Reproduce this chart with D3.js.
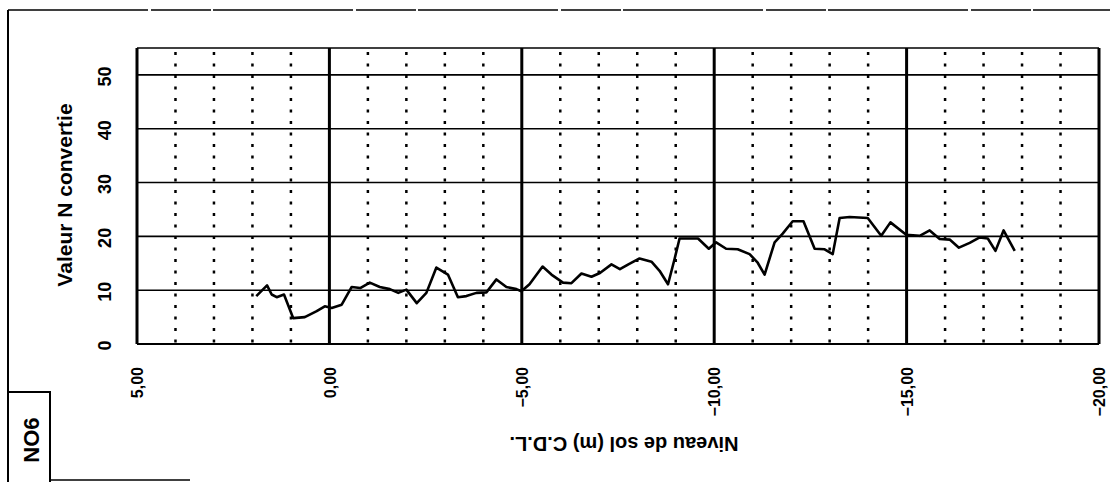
<!DOCTYPE html>
<html>
<head>
<meta charset="utf-8">
<script src="https://cdn.jsdelivr.net/npm/d3@7"></script>
<style>
  body { margin: 0; background: #fff; }
  text { font-family: "Liberation Sans", Arial, sans-serif; fill: #000; font-weight: bold; }
</style>
</head>
<body>
<div id="chart"></div>
<script>
// depth (m C.D.L.) and converted N value
var depth = [1.90, 1.62, 1.50, 1.37, 1.18, 0.94, 0.64, 0.33, 0.12, -0.06,
  -0.32, -0.58, -0.80, -1.05, -1.31, -1.57, -1.79, -2.00, -2.27, -2.52,
  -2.78, -3.08, -3.34, -3.56, -3.82, -4.08, -4.34, -4.60, -4.86, -4.99,
  -5.20, -5.54, -5.77, -6.07, -6.29, -6.55, -6.81, -7.03, -7.33, -7.55,
  -7.77, -8.06, -8.37, -8.58, -8.80, -8.97, -9.10, -9.32, -9.58, -9.86,
  -10.05, -10.31, -10.61, -10.92, -11.13, -11.31, -11.57, -11.78, -12.04, -12.32,
  -12.61, -12.87, -13.08, -13.26, -13.52, -13.99, -14.34, -14.58, -14.99, -15.34,
  -15.60, -15.86, -16.12, -16.36, -16.64, -16.90, -17.11, -17.31, -17.52, -17.81];
var nValue = [8.9, 10.9, 9.2, 8.7, 9.2, 4.8, 5.0, 6.1, 7.0, 6.7,
  7.3, 10.6, 10.4, 11.4, 10.6, 10.2, 9.5, 10.1, 7.6, 9.5,
  14.2, 12.9, 8.7, 8.9, 9.5, 9.6, 12.0, 10.6, 10.2, 9.8,
  11.1, 14.4, 12.9, 11.4, 11.3, 13.1, 12.5, 13.2, 14.8, 13.9,
  14.8, 15.9, 15.3, 13.6, 11.1, 15.8, 19.6, 19.6, 19.6, 17.7,
  18.9, 17.7, 17.6, 16.7, 15.1, 12.9, 18.9, 20.5, 22.8, 22.8,
  17.7, 17.6, 16.7, 23.4, 23.6, 23.4, 20.1, 22.6, 20.3, 20.1,
  21.1, 19.5, 19.4, 17.9, 18.8, 19.8, 19.6, 17.3, 21.1, 17.3];

var xTicks = [5, 0, -5, -10, -15, -20];
var xMinor = [4, 3, 2, 1, -1, -2, -3, -4, -6, -7, -8, -9, -11, -12, -13, -14, -16, -17, -18, -19];
var yTicks = [0, 10, 20, 30, 40, 50];

var W = 1110, H = 482;
var svg = d3.select("#chart").append("svg")
  .attr("width", W)
  .attr("height", H);

var x = d3.scaleLinear().domain([5, -20]).range([137, 1099]);
var y = d3.scaleLinear().domain([0, 55]).range([344, 48]);

// outer sheet frame
svg.append("line")
  .attr("x1", 8).attr("x2", W).attr("y1", 10).attr("y2", 10)
  .attr("stroke", "#000").attr("stroke-width", 1.3)
  .attr("stroke-dasharray", "140,3,60,2");
svg.append("line")
  .attr("x1", 8).attr("x2", 8).attr("y1", 10).attr("y2", H)
  .attr("stroke", "#000").attr("stroke-width", 2);

// NO6 box
svg.append("rect")
  .attr("x", 8).attr("y", 392).attr("width", 42).attr("height", 92)
  .attr("fill", "none").attr("stroke", "#000").attr("stroke-width", 2);
svg.append("text")
  .attr("transform", "translate(31,440) rotate(-90)")
  .attr("text-anchor", "middle")
  .attr("dy", "0.35em")
  .style("font-size", "22px")
  .text("NO6");
svg.append("line")
  .attr("x1", 50).attr("x2", 190).attr("y1", 480).attr("y2", 480)
  .attr("stroke", "#000").attr("stroke-width", 1.5);

// dotted minor verticals
svg.append("g").selectAll("line")
  .data(xMinor)
  .join("line")
  .attr("x1", d => x(d)).attr("x2", d => x(d))
  .attr("y1", y(55) + 4).attr("y2", y(0))
  .attr("stroke", "#000").attr("stroke-width", 2.5)
  .attr("stroke-dasharray", "3,8.5");

// horizontal grid
svg.append("g").selectAll("line")
  .data(yTicks.slice(1))
  .join("line")
  .attr("x1", x(5)).attr("x2", x(-20))
  .attr("y1", d => y(d)).attr("y2", d => y(d))
  .attr("stroke", "#000").attr("stroke-width", 1.6);

// major verticals
svg.append("g").selectAll("line")
  .data(xTicks)
  .join("line")
  .attr("x1", d => x(d)).attr("x2", d => x(d))
  .attr("y1", y(55)).attr("y2", y(0))
  .attr("stroke", "#000").attr("stroke-width", 3);

// plot frame
svg.append("line")
  .attr("x1", x(5)).attr("x2", x(-20)).attr("y1", y(55)).attr("y2", y(55))
  .attr("stroke", "#000").attr("stroke-width", 1.5);
svg.append("line")
  .attr("x1", x(5)).attr("x2", x(-20)).attr("y1", y(0)).attr("y2", y(0))
  .attr("stroke", "#000").attr("stroke-width", 2);

// data line
var line = d3.line()
  .x((d, i) => x(depth[i]))
  .y(d => y(d));
svg.append("path")
  .datum(nValue)
  .attr("d", line)
  .attr("fill", "none")
  .attr("stroke", "#000")
  .attr("stroke-width", 2.6)
  .attr("stroke-linejoin", "round");

// axes
var fmt = d => d3.format(".2f")(d).replace(".", ",").replace("-", "\u2212");

var yAxis = svg.append("g")
  .attr("transform", "translate(" + x(5) + ",0)")
  .call(d3.axisLeft(y).tickValues(yTicks).tickSize(0).tickFormat(d3.format("d")));
yAxis.select(".domain").remove();
yAxis.selectAll("text")
  .attr("x", 0).attr("y", 0)
  .attr("dy", "0.35em")
  .attr("transform", "translate(-32,1) rotate(-90)")
  .attr("text-anchor", "middle")
  .style("font-size", "18px")
  .style("font-weight", "bold")
  .style("font-family", "'Liberation Sans', Arial, sans-serif");

var xAxis = svg.append("g")
  .attr("transform", "translate(0," + y(0) + ")")
  .call(d3.axisBottom(x).tickValues(xTicks).tickSize(0).tickFormat(fmt));
xAxis.select(".domain").remove();
xAxis.selectAll("text")
  .attr("x", 0).attr("y", 0)
  .attr("dy", "0.35em")
  .attr("transform", "translate(0,23) rotate(-90)")
  .attr("text-anchor", "end")
  .style("font-size", "16px")
  .style("font-weight", "bold")
  .style("font-family", "'Liberation Sans', Arial, sans-serif");

// axis titles
svg.append("text")
  .attr("transform", "translate(65,195) rotate(-90)")
  .attr("text-anchor", "middle")
  .attr("dy", "0.35em")
  .style("font-size", "21px")
  .text("Valeur N convertie");

svg.append("text")
  .attr("transform", "translate(624,444) rotate(180)")
  .attr("text-anchor", "middle")
  .attr("dy", "0.35em")
  .style("font-size", "20px")
  .text("Niveau de sol (m) C.D.L.");
</script>
</body>
</html>
